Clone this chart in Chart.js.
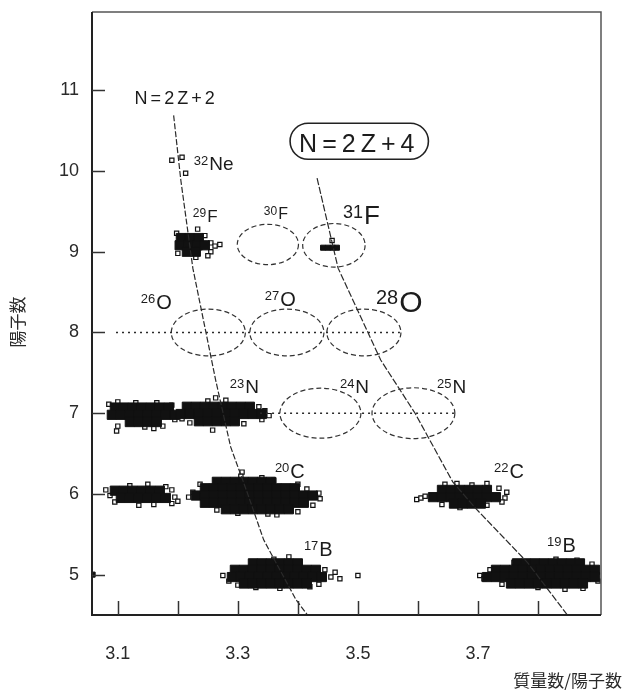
<!DOCTYPE html>
<html lang="ja">
<head>
<meta charset="UTF-8">
<title>陽子数 vs 質量数/陽子数</title>
<script src="https://cdn.jsdelivr.net/npm/chart.js"></script>
<style>
  html, body { margin: 0; padding: 0; background: #fff; }
  #wrap { width: 627px; height: 695px; }
</style>
</head>
<body>
<div id="wrap"><canvas id="chart" width="627" height="695"></canvas></div>
<script>
// tick values
const zTicks = [5, 6, 7, 8, 9, 10, 11];
const ratioTicks = [3.1, 3.2, 3.3, 3.4, 3.5, 3.6, 3.7, 3.8];
const ratioLabels = ['3.1', '3.3', '3.5', '3.7'];

// N=2Z+2 and N=2Z+4 lines
const line22 = [[3.193, 10.69], [3.205, 9.886], [3.225, 8.797], [3.263, 7.411], [3.288, 6.582],
                [3.317, 5.988], [3.343, 5.431], [3.397, 4.688], [3.416, 4.5]];
const line24 = [[3.432, 9.911], [3.467, 8.797], [3.538, 7.658], [3.595, 7.002], [3.658, 6.149],
                [3.697, 5.814], [3.783, 5.146], [3.849, 4.5]];

// dotted guides at Z=8 and Z=7
const guide8 = [[3.097, 8], [3.57, 8]];
const guide7 = [[3.337, 7], [3.66, 7]];

// expected positions (not observed): [A/Z, Z, half width, half height]
const ellipses = [
  [3.2508, 8.0, 0.0617, 0.29],   // 26O
  [3.3817, 8.0, 0.0617, 0.29],   // 27O
  [3.51, 8.0, 0.0617, 0.29],     // 28O
  [3.4375, 7.0, 0.0675, 0.31],   // 24N
  [3.5925, 7.0, 0.069, 0.315],   // 25N
  [3.35, 9.09, 0.051, 0.25],     // 30F
  [3.46, 9.08, 0.052, 0.27]      // 31F
];

// events: dense centre of each group
const b19Core = [
  [3.765, 5.14], [3.78, 5.14], [3.795, 5.14], [3.81, 5.14], [3.825, 5.14], [3.84, 5.14], [3.855, 5.14], [3.87, 5.14],
  [3.73, 5.06], [3.745, 5.06], [3.76, 5.06], [3.775, 5.06], [3.79, 5.06], [3.805, 5.06], [3.82, 5.06],
  [3.835, 5.06], [3.85, 5.06], [3.865, 5.06], [3.88, 5.06], [3.895, 5.06],
  [3.715, 4.97], [3.73, 4.97], [3.745, 4.97], [3.76, 4.97], [3.775, 4.97], [3.79, 4.97], [3.805, 4.97],
  [3.82, 4.97], [3.835, 4.97], [3.85, 4.97], [3.865, 4.97], [3.88, 4.97], [3.895, 4.97],
  [3.755, 4.89], [3.77, 4.89], [3.785, 4.89], [3.8, 4.89], [3.815, 4.89], [3.83, 4.89], [3.845, 4.89], [3.86, 4.89], [3.875, 4.89]
];
const b17Core = [
  [3.325, 5.14], [3.34, 5.14], [3.355, 5.14], [3.37, 5.14], [3.385, 5.14], [3.4, 5.14],
  [3.295, 5.06], [3.31, 5.06], [3.325, 5.06], [3.34, 5.06], [3.355, 5.06], [3.37, 5.06], [3.385, 5.06],
  [3.4, 5.06], [3.415, 5.06], [3.43, 5.06],
  [3.29, 4.97], [3.305, 4.97], [3.32, 4.97], [3.335, 4.97], [3.35, 4.97], [3.365, 4.97], [3.38, 4.97],
  [3.395, 4.97], [3.41, 4.97], [3.425, 4.97], [3.44, 4.97],
  [3.31, 4.89], [3.325, 4.89], [3.34, 4.89], [3.355, 4.89], [3.37, 4.89], [3.385, 4.89], [3.4, 4.89], [3.415, 4.89]
];
const c20Core = [
  [3.265, 6.15], [3.28, 6.15], [3.295, 6.15], [3.31, 6.15], [3.325, 6.15], [3.34, 6.15], [3.355, 6.15],
  [3.245, 6.07], [3.26, 6.07], [3.275, 6.07], [3.29, 6.07], [3.305, 6.07], [3.32, 6.07], [3.335, 6.07],
  [3.35, 6.07], [3.365, 6.07], [3.38, 6.07], [3.395, 6.07],
  [3.23, 5.98], [3.245, 5.98], [3.26, 5.98], [3.275, 5.98], [3.29, 5.98], [3.305, 5.98], [3.32, 5.98],
  [3.335, 5.98], [3.35, 5.98], [3.365, 5.98], [3.38, 5.98], [3.395, 5.98], [3.41, 5.98], [3.425, 5.98],
  [3.245, 5.89], [3.26, 5.89], [3.275, 5.89], [3.29, 5.89], [3.305, 5.89], [3.32, 5.89], [3.335, 5.89],
  [3.35, 5.89], [3.365, 5.89], [3.38, 5.89], [3.395, 5.89], [3.41, 5.89],
  [3.28, 5.81], [3.295, 5.81], [3.31, 5.81], [3.325, 5.81], [3.34, 5.81], [3.355, 5.81], [3.37, 5.81], [3.385, 5.81]
];
const c6LeftCore = [
  [3.095, 6.04], [3.11, 6.04], [3.125, 6.04], [3.14, 6.04], [3.155, 6.04], [3.17, 6.04],
  [3.105, 5.95], [3.12, 5.95], [3.135, 5.95], [3.15, 5.95], [3.165, 5.95], [3.18, 5.95]
];
const c22Core = [
  [3.64, 6.05], [3.655, 6.05], [3.67, 6.05], [3.685, 6.05], [3.7, 6.05], [3.715, 6.05],
  [3.625, 5.96], [3.64, 5.96], [3.655, 5.96], [3.67, 5.96], [3.685, 5.96], [3.7, 5.96], [3.715, 5.96], [3.73, 5.96],
  [3.66, 5.88], [3.675, 5.88], [3.69, 5.88], [3.705, 5.88]
];
const n7LeftCore = [
  [3.095, 7.07], [3.11, 7.07], [3.125, 7.07], [3.14, 7.07], [3.155, 7.07], [3.17, 7.07], [3.185, 7.07],
  [3.09, 6.98], [3.105, 6.98], [3.12, 6.98], [3.135, 6.98], [3.15, 6.98], [3.165, 6.98], [3.18, 6.98], [3.195, 6.98],
  [3.12, 6.89], [3.135, 6.89], [3.15, 6.89], [3.165, 6.89]
];
const n23Core = [
  [3.215, 7.08], [3.23, 7.08], [3.245, 7.08], [3.26, 7.08], [3.275, 7.08], [3.29, 7.08], [3.305, 7.08], [3.32, 7.08],
  [3.205, 6.99], [3.22, 6.99], [3.235, 6.99], [3.25, 6.99], [3.265, 6.99], [3.28, 6.99], [3.295, 6.99],
  [3.31, 6.99], [3.325, 6.99], [3.34, 6.99],
  [3.235, 6.9], [3.25, 6.9], [3.265, 6.9], [3.28, 6.9], [3.295, 6.9]
];
const f29Core = [
  [3.205, 9.17], [3.22, 9.17], [3.235, 9.17],
  [3.203, 9.08], [3.218, 9.08], [3.233, 9.08], [3.245, 9.08],
  [3.215, 9.0], [3.23, 9.0]
];

// events: scattered single hits around each group
const b19Edge = [[3.703, 4.99], [3.71, 4.95], [3.72, 5.06], [3.76, 5.15], [3.83, 5.19], [3.865, 5.18],
  [3.89, 5.13], [3.9, 4.92], [3.875, 4.83], [3.845, 4.82], [3.8, 4.84], [3.74, 4.88]];
const b17Edge = [[3.275, 4.99], [3.285, 4.92], [3.385, 5.22], [3.36, 5.19], [3.445, 5.06], [3.455, 4.97],
  [3.462, 5.03], [3.47, 4.95], [3.5, 4.99], [3.435, 4.88], [3.42, 4.85], [3.37, 4.83], [3.33, 4.84], [3.3, 4.87]];
const c20Edge = [[3.218, 5.96], [3.225, 6.02], [3.237, 6.12], [3.307, 6.27], [3.305, 6.22], [3.34, 6.2],
  [3.36, 6.17], [3.4, 6.12], [3.415, 6.06], [3.435, 6.01], [3.437, 5.94], [3.425, 5.86], [3.4, 5.78],
  [3.365, 5.74], [3.35, 5.75], [3.3, 5.76], [3.265, 5.8]];
const c6LeftEdge = [[3.08, 6.05], [3.087, 5.98], [3.12, 6.1], [3.15, 6.12], [3.18, 6.09], [3.19, 6.05],
  [3.195, 5.96], [3.2, 5.91], [3.19, 5.88], [3.16, 5.87], [3.135, 5.86], [3.095, 5.9]];
const c22Edge = [[3.598, 5.93], [3.605, 5.95], [3.612, 5.97], [3.645, 6.12], [3.665, 6.13], [3.69, 6.11],
  [3.715, 6.13], [3.735, 6.07], [3.748, 6.02], [3.745, 5.95], [3.74, 5.9], [3.715, 5.86], [3.67, 5.83], [3.64, 5.87]];
const n7LeftEdge = [[3.053, 6.93], [3.085, 7.11], [3.1, 7.14], [3.13, 7.13], [3.165, 7.13], [3.19, 7.1],
  [3.2, 6.98], [3.195, 6.92], [3.175, 6.84], [3.16, 6.81], [3.145, 6.83], [3.1, 6.84], [3.098, 6.78]];
const n23Edge = [[3.263, 7.19], [3.25, 7.15], [3.28, 7.16], [3.335, 7.08], [3.345, 7.03], [3.352, 6.97],
  [3.34, 6.92], [3.31, 6.87], [3.258, 6.79], [3.22, 6.88], [3.207, 6.93]];
const f29Edge = [[3.233, 9.28], [3.245, 9.2], [3.255, 9.11], [3.262, 9.07], [3.27, 9.09], [3.255, 9.0],
  [3.25, 8.95], [3.23, 8.93], [3.2, 8.98], [3.198, 9.23]];
const ne32Hits = [[3.19, 10.134], [3.207, 10.171], [3.213, 9.973]];
const f31Hits = [[3.442, 9.05], [3.45, 9.05], [3.458, 9.05], [3.465, 9.05]];
const f31Stray = [[3.457, 9.14]];
const b5Left = [[3.058, 5.0]];

// isotope labels: mass, symbol, anchor (A/Z, Z)
const isotopes = [
  ['32', 'Ne', 3.2267, 10.01, 13, 19],
  ['29', 'F', 3.225, 9.37, 12, 17],
  ['30', 'F', 3.3433, 9.41, 12, 16],
  ['31', 'F', 3.475, 9.34, 18, 26],
  ['26', 'O', 3.1383, 8.29, 13, 20],
  ['27', 'O', 3.345, 8.33, 13, 20],
  ['28', 'O', 3.53, 8.25, 20, 30],
  ['23', 'N', 3.2867, 7.25, 13, 19],
  ['24', 'N', 3.47, 7.25, 13, 19],
  ['25', 'N', 3.6317, 7.25, 13, 19],
  ['20', 'C', 3.3617, 6.2, 13, 20],
  ['22', 'C', 3.7267, 6.2, 13, 20],
  ['17', 'B', 3.41, 5.23, 13, 20],
  ['19', 'B', 3.815, 5.28, 13, 20]
];

const sans = "'Liberation Sans', Arial, Helvetica, sans-serif";
const cjk = "'Noto Sans CJK JP', 'Noto Sans CJK SC', sans-serif";
const ink = '#1c1c1c';

const toXY = arr => arr.map(p => ({ x: p[0], y: p[1] }));
const coreHits = [].concat(b19Core, b17Core, c20Core, c6LeftCore, c22Core, n7LeftCore, n23Core, f29Core);
const edgeHits = [].concat(b19Edge, b17Edge, c20Edge, c6LeftEdge, c22Edge, n7LeftEdge, n23Edge, f29Edge, ne32Hits, f31Stray);
const smallHits = [].concat(f31Hits, b5Left);

function lineSet(data, dash, width) {
    return {
        data: toXY(data), showLine: true, pointRadius: 0, borderColor: '#2a2a2a',
        borderWidth: width, borderDash: dash, fill: false, order: 0
    };
}

const figurePlugin = {
    id: 'figure',
    beforeDatasetsDraw(chart) {
        const { ctx, scales: { x, y } } = chart;
        ctx.save();
        ctx.strokeStyle = '#333';
        ctx.lineWidth = 1.2;
        ctx.setLineDash([5, 3]);
        ellipses.forEach(e => {
            const cx = x.getPixelForValue(e[0]);
            const cy = y.getPixelForValue(e[1]);
            const rx = Math.abs(x.getPixelForValue(e[0] + e[2]) - cx);
            const ry = Math.abs(y.getPixelForValue(e[1] + e[3]) - cy);
            ctx.beginPath();
            ctx.ellipse(cx, cy, rx, ry, 0, 0, Math.PI * 2);
            ctx.stroke();
        });
        ctx.restore();
    },
    afterDraw(chart) {
        const { ctx, chartArea: a, scales: { x, y } } = chart;
        ctx.save();

        // frame
        ctx.strokeStyle = '#555';
        ctx.lineWidth = 1.5;
        ctx.beginPath();
        ctx.moveTo(a.left, a.top); ctx.lineTo(a.right, a.top); ctx.lineTo(a.right, a.bottom);
        ctx.stroke();
        ctx.strokeStyle = '#222';
        ctx.lineWidth = 2;
        ctx.beginPath();
        ctx.moveTo(a.left, a.top); ctx.lineTo(a.left, a.bottom); ctx.lineTo(a.right, a.bottom);
        ctx.stroke();

        // inward ticks
        ctx.lineWidth = 1.5;
        ctx.strokeStyle = '#333';
        y.ticks.forEach(t => {
            const py = Math.round(y.getPixelForValue(t.value)) + 0.5;
            ctx.beginPath(); ctx.moveTo(a.left, py); ctx.lineTo(a.left + 13, py); ctx.stroke();
        });
        x.ticks.forEach(t => {
            const px = Math.round(x.getPixelForValue(t.value)) + 0.5;
            ctx.beginPath(); ctx.moveTo(px, a.bottom); ctx.lineTo(px, a.bottom - 14); ctx.stroke();
        });

        // isotope labels
        ctx.fillStyle = ink;
        ctx.textBaseline = 'alphabetic';
        ctx.textAlign = 'left';
        isotopes.forEach(d => {
            const px = x.getPixelForValue(d[2]);
            const py = y.getPixelForValue(d[3]);
            ctx.font = d[4] + 'px ' + sans;
            ctx.fillText(d[0], px, py - 0.72 * (d[5] - d[4]) - 1);
            const w = ctx.measureText(d[0]).width;
            ctx.font = d[5] + 'px ' + sans;
            ctx.fillText(d[1], px + w + 1, py);
        });

        // line names
        ctx.letterSpacing = '3px';
        ctx.font = '18px ' + sans;
        ctx.fillText('N=2Z+2', x.getPixelForValue(3.128), y.getPixelForValue(10.83));
        ctx.letterSpacing = '5px';
        ctx.font = '25px ' + sans;
        const tx = x.getPixelForValue(3.402), ty = y.getPixelForValue(10.233);
        ctx.fillText('N=2Z+4', tx, ty);
        const tw = ctx.measureText('N=2Z+4').width;
        ctx.letterSpacing = '0px';
        ctx.strokeStyle = '#222';
        ctx.lineWidth = 1.6;
        ctx.beginPath();
        ctx.roundRect(tx - 9, ty - 29, tw + 18, 36, 18);
        ctx.stroke();

        // axis titles
        ctx.font = '17px ' + cjk;
        ctx.fillStyle = '#2a2a2a';
        ctx.textAlign = 'right';
        ctx.textBaseline = 'middle';
        ctx.fillText('質量数/陽子数', 622, 681);
        ctx.translate(18, 322);
        ctx.rotate(-Math.PI / 2);
        ctx.textAlign = 'center';
        ctx.fillText('陽子数', 0, 0);
        ctx.restore();
    }
};

new Chart(document.getElementById('chart'), {
    type: 'scatter',
    data: {
        datasets: [
            lineSet(line22, [6, 2], 1.2),
            lineSet(line24, [7, 2], 1.2),
            lineSet(guide8, [2, 4], 1.6),
            lineSet(guide7, [2, 4], 1.6),
            {
                data: toXY(coreHits), pointStyle: 'rect', pointRadius: 6.5,
                backgroundColor: '#111', borderColor: '#111', borderWidth: 1, order: 1
            },
            {
                data: toXY(smallHits), pointStyle: 'rect', pointRadius: 3.6,
                backgroundColor: '#111', borderColor: '#111', borderWidth: 1, order: 1
            },
            {
                data: toXY(edgeHits), pointStyle: 'rect', pointRadius: 3,
                backgroundColor: '#fff', borderColor: '#111', borderWidth: 1.2, order: 1
            }
        ]
    },
    options: {
        responsive: false,
        animation: false,
        layout: { padding: { top: 12, right: 26, left: 0, bottom: 0 } },
        plugins: { legend: { display: false }, tooltip: { enabled: false } },
        scales: {
            x: {
                type: 'linear', min: 3.057, max: 3.905,
                grid: { display: false, drawTicks: false },
                border: { display: false },
                afterBuildTicks: s => { s.ticks = ratioTicks.map(v => ({ value: v })); },
                afterFit: s => { s.height = 80; },
                ticks: {
                    autoSkip: false, maxRotation: 0, padding: 28, color: '#2a2a2a',
                    font: { family: sans, size: 18 },
                    callback: v => {
                        const t = v.toFixed(1);
                        return ratioLabels.includes(t) ? t : '';
                    }
                }
            },
            y: {
                type: 'linear', min: 4.5, max: 11.97,
                grid: { display: false, drawTicks: false },
                border: { display: false },
                afterBuildTicks: s => { s.ticks = zTicks.map(v => ({ value: v })); },
                afterFit: s => { s.width = 92; s.paddingTop = 0; s.paddingBottom = 0; },
                ticks: {
                    padding: 13, color: '#2a2a2a',
                    font: { family: sans, size: 18 }
                }
            }
        }
    },
    plugins: [figurePlugin]
});
</script>
</body>
</html>
